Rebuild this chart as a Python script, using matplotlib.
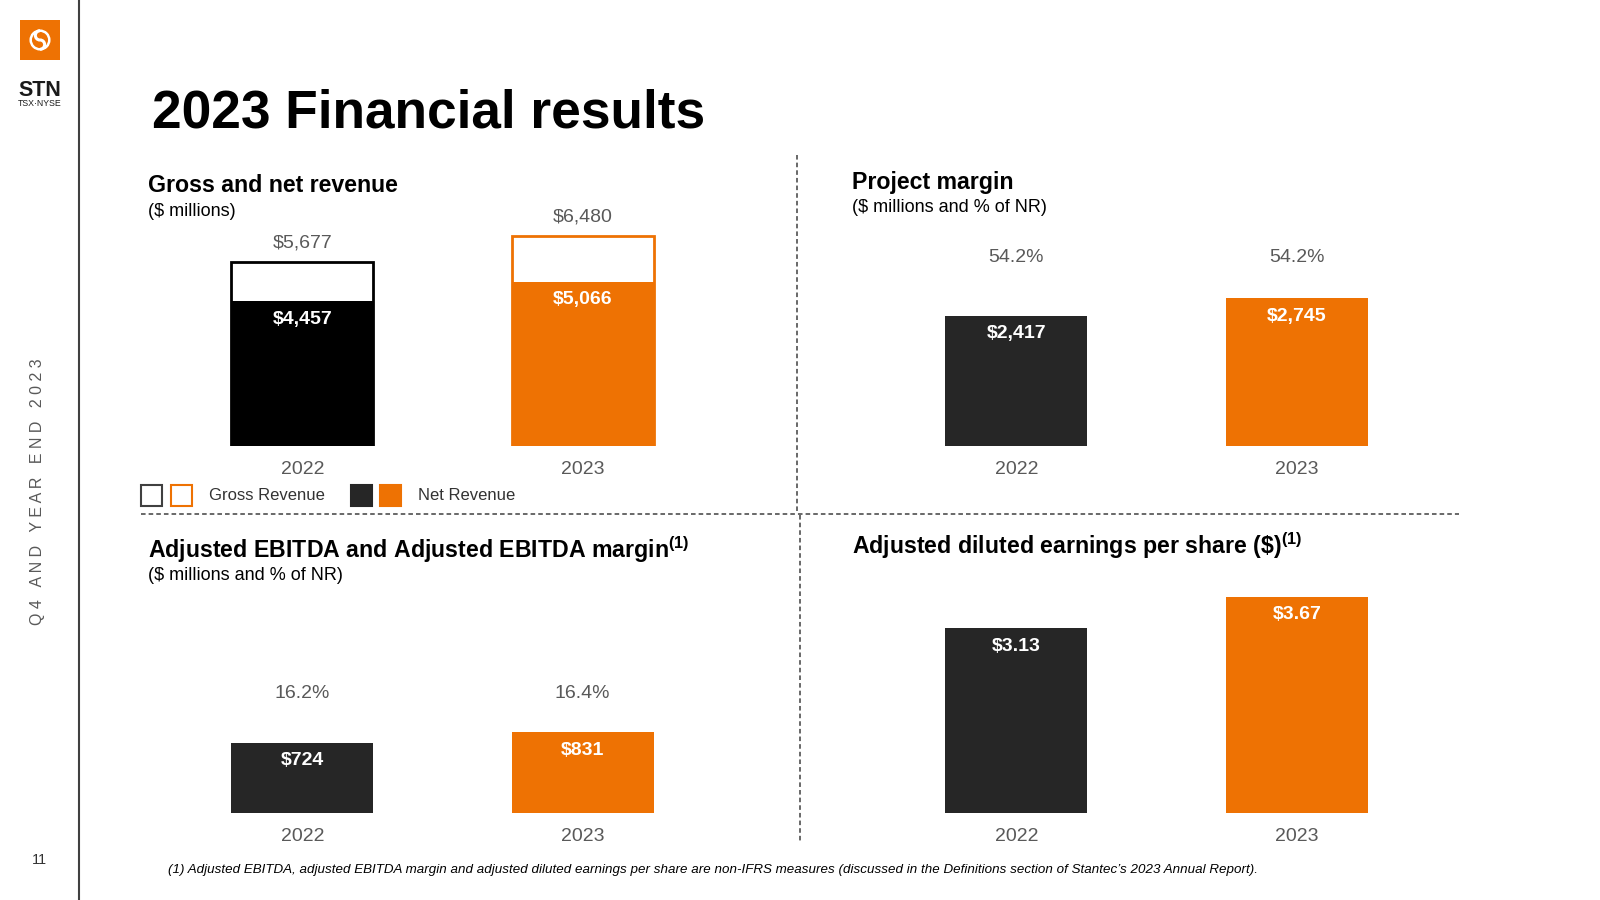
import matplotlib
matplotlib.use("Agg")
import matplotlib.pyplot as plt
from matplotlib.patches import Rectangle, Circle, Arc
from matplotlib.lines import Line2D

plt.rcParams["font.family"] = ["Liberation Sans", "DejaVu Sans"]
plt.rcParams["mathtext.fontset"] = "custom"
plt.rcParams["mathtext.rm"] = "Liberation Sans"
plt.rcParams["mathtext.bf"] = "Liberation Sans:bold"
plt.rcParams["mathtext.default"] = "bf"

# ---- data ----
years = ["2022", "2023"]
gross_revenue = [5677, 6480]
net_revenue = [4457, 5066]
project_margin = [2417, 2745]
project_margin_pct = [54.2, 54.2]
adj_ebitda = [724, 831]
adj_ebitda_pct = [16.2, 16.4]
adj_eps = [3.13, 3.67]

ORANGE = "#EE7203"
DARK = "#262626"
BLACK = "#000000"
GRAY = "#595959"

W, H = 1600, 900
fig = plt.figure(figsize=(16, 9), dpi=100)


def px_axes(left, baseline, width, height):
    # pixel box (y measured from top) -> figure fraction
    return fig.add_axes([left / W, 1 - baseline / H, width / W, height / H])


def fig_text(x, y, s, **kw):
    return fig.text(x / W, 1 - y / H, s, **kw)


def panel(left, baseline, ymax, height=300):
    ax = px_axes(left, baseline, 561, height)
    ax.set_xlim(-0.5, 1.5)
    ax.set_ylim(0, ymax)
    for sp in ax.spines.values():
        sp.set_visible(False)
    ax.set_yticks([])
    ax.set_xticks([0, 1])
    ax.set_xticklabels(years, fontsize=14, color=GRAY)
    ax.tick_params(axis="x", length=0, pad=10.5)
    ax.patch.set_alpha(0)
    return ax


def inner_labels(ax, vals, fmt):
    for i, v in enumerate(vals):
        ax.annotate(fmt.format(v), (i, v), xytext=(0, -18), textcoords="offset pixels",
                    ha="center", va="center", fontsize=14, fontweight="bold", color="white")


BW = 0.505

# ---- gross and net revenue ----
ax1 = panel(162, 446, 9245)
ax1.bar([0, 1], gross_revenue, width=BW, color="white",
        edgecolor=[BLACK, ORANGE], linewidth=2, zorder=2)
ax1.bar([0, 1], net_revenue, width=BW, color=[BLACK, ORANGE], zorder=3)
for i, v in enumerate(gross_revenue):
    ax1.annotate(f"${v:,}", (i, v), xytext=(0, 19), textcoords="offset pixels",
                 ha="center", va="center", fontsize=14, color=GRAY)
inner_labels(ax1, net_revenue, "${:,}")

# ---- project margin ----
ax2 = panel(876, 446, 5566)
ax2.bar([0, 1], project_margin, width=BW, color=[DARK, ORANGE])
inner_labels(ax2, project_margin, "${:,}")
for i, p in enumerate(project_margin_pct):
    ax2.text(i, 0.627, f"{p:.1f}%", transform=ax2.get_xaxis_transform(),
             ha="center", va="center", fontsize=14, color=GRAY)

# ---- adjusted EBITDA ----
ax3 = panel(162, 813, 3090)
ax3.bar([0, 1], adj_ebitda, width=BW, color=[DARK, ORANGE])
inner_labels(ax3, adj_ebitda, "${:,}")
for i, p in enumerate(adj_ebitda_pct):
    ax3.text(i, 0.40, f"{p:.1f}%", transform=ax3.get_xaxis_transform(),
             ha="center", va="center", fontsize=14, color=GRAY)

# ---- adjusted diluted EPS ----
ax4 = panel(876, 813, 5.087)
ax4.bar([0, 1], adj_eps, width=BW, color=[DARK, ORANGE])
inner_labels(ax4, adj_eps, "${:.2f}")

# ---- titles ----
fig_text(152, 113, "2023 Financial results", fontsize=38.3, fontweight="bold",
         color=BLACK, va="center")
fig_text(148, 186, "Gross and net revenue", fontsize=16.7, fontweight="bold", va="center")
fig_text(148, 211, "($ millions)", fontsize=13, va="center")
fig_text(852, 182, "Project margin", fontsize=16.7, fontweight="bold", va="center")
fig_text(852, 207, "($ millions and % of NR)", fontsize=13, va="center")
fig_text(148, 550, r"Adjusted EBITDA and Adjusted EBITDA margin$^{(1)}$",
         fontsize=16.7, fontweight="bold", va="center")
fig_text(148, 575, "($ millions and % of NR)", fontsize=13, va="center")
fig_text(852, 546, r"Adjusted diluted earnings per share (\$)$^{(1)}$",
         fontsize=16.7, fontweight="bold", va="center")

# ---- legend ----
for x0, ec, fc in [(141, "#404040", "white"), (171, ORANGE, "white"),
                   (351, DARK, DARK), (380, ORANGE, ORANGE)]:
    fig.patches.append(Rectangle((x0 / W, 1 - 506 / H), 21 / W, 21 / H,
                                 transform=fig.transFigure, facecolor=fc,
                                 edgecolor=ec, linewidth=1.5))
fig_text(209, 496, "Gross Revenue", fontsize=12, color="#333333", va="center")
fig_text(418, 496, "Net Revenue", fontsize=12, color="#333333", va="center")

# ---- separators ----
dash = dict(color="#404040", linewidth=1.1, linestyle=(0, (3, 2)),
            transform=fig.transFigure)
fig.lines.append(Line2D([797 / W, 797 / W], [1 - 155 / H, 1 - 513 / H], **dash))
fig.lines.append(Line2D([800 / W, 800 / W], [1 - 515 / H, 1 - 843 / H], **dash))
fig.lines.append(Line2D([141 / W, 1459 / W], [1 - 514 / H, 1 - 514 / H], **dash))
fig.lines.append(Line2D([79 / W, 79 / W], [0, 1], color="#404040", linewidth=1.5,
                        transform=fig.transFigure))

# ---- side bar ----
logo = px_axes(20, 60, 40, 40)
logo.set_xlim(-20, 20)
logo.set_ylim(-20, 20)
logo.axis("off")
logo.add_patch(Rectangle((-20, -20), 40, 40, facecolor=ORANGE, edgecolor="none"))
logo.add_patch(Circle((0, 0), 9.3, facecolor="none", edgecolor="white", linewidth=1.8))
logo.add_patch(Arc((0, 4.6), 9.3, 9.3, theta1=90, theta2=270, color="white", linewidth=2.2))
logo.add_patch(Arc((0, -4.6), 9.3, 9.3, theta1=-90, theta2=90, color="white", linewidth=2.2))

fig_text(40, 90, "STN", fontsize=15.5, fontweight="bold", color="#1a1a1a",
         ha="center", va="center")
fig_text(40, 104, "TSX·NYSE", fontsize=6.3, color="#1a1a1a", ha="center", va="center")
fig_text(38, 492, "Q 4   A N D   Y E A R   E N D   2 0 2 3", fontsize=11.5,
         color=GRAY, rotation=90, ha="center", va="center")
fig_text(39, 860, "11", fontsize=10.5, color="#333333", ha="center", va="center")

fig_text(168, 870,
         "(1) Adjusted EBITDA, adjusted EBITDA margin and adjusted diluted earnings per share "
         "are non-IFRS measures (discussed in the Definitions section of Stantec\u2019s 2023 "
         "Annual Report).", fontsize=9.65, fontstyle="italic", color=BLACK, va="center")

fig.savefig("out.png", dpi=100)
